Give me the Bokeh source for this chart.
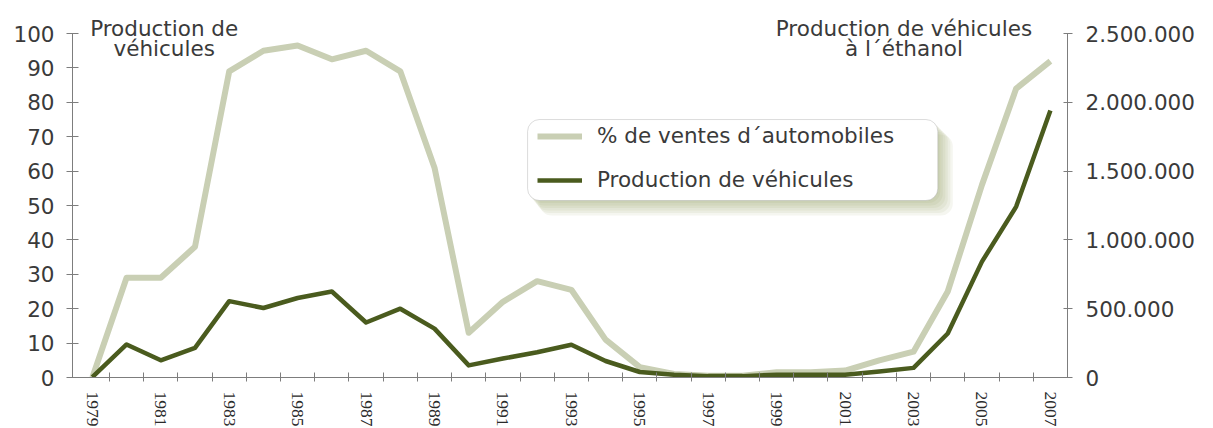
from bokeh.plotting import figure
from bokeh.models import Range1d, LinearAxis, FixedTicker, Legend, LegendItem, Label, BoxAnnotation
from bokeh.embed import file_html
from bokeh.resources import INLINE

# ---------------- data ----------------
years = list(range(1979, 2008))
pct_sales = [0, 29, 29, 38, 89, 95, 96.5, 92.5, 95, 89, 61, 13, 22, 28, 25.5, 11, 3, 1,
             0.5, 0.5, 1.5, 1.5, 2, 5, 7.5, 25, 56, 84, 92]
vehicles = [3000, 240000, 125000, 215000, 555000, 505000, 578000, 625000, 400000, 500000,
            355000, 88000, 138000, 183000, 238000, 120000, 40000, 20000, 10000, 10000,
            20000, 20000, 20000, 43000, 70000, 320000, 842000, 1242000, 1940000]
year_labels = [str(y) for y in range(1979, 2008, 2)]
left_ticks = list(range(0, 101, 10))
right_ticks = [0, 500000, 1000000, 1500000, 2000000, 2500000]
right_tick_labels = ["0", "500.000", "1.000.000", "1.500.000", "2.000.000", "2.500.000"]
series_names = ["% de ventes d´automobiles", "Production de véhicules"]
left_title = ["Production de", "véhicules"]
right_title = ["Production de véhicules", "à l´éthanol"]

# ---------------- style ----------------
LIGHT = "#c9cfb4"
DARK = "#4a5b1e"
AXIS = "#7d7d7d"
TEXT = "#3a3a3a"
FONT = "DejaVu Sans"
NARROW = "Liberation Sans Narrow"
FS = "21.5px"

X0, X1 = 1978.42, 2007.5
FRAME_W, FRAME_H = 995, 377
Y_TOP = 109.6
px_x = (X1 - X0) / FRAME_W
px_y = Y_TOP / FRAME_H

p = figure(frame_width=FRAME_W, frame_height=FRAME_H, output_backend="svg",
           toolbar_location=None,
           x_range=Range1d(X0, X1), y_range=Range1d(0, Y_TOP),
           min_border_left=72, min_border_right=120, min_border_top=0, min_border_bottom=40,
           background_fill_color="white", border_fill_color="white")
p.extra_y_ranges = {"veh": Range1d(0, Y_TOP * 25000)}
p.outline_line_color = None
p.xgrid.visible = False
p.ygrid.visible = False

# x axis
xa = p.xaxis[0]
xa.ticker = FixedTicker(ticks=[int(l) for l in year_labels],
                        minor_ticks=[y + 0.5 for y in years[:-1]])
xa.major_label_overrides = {int(l): l for l in year_labels}
xa.major_tick_in = 0
xa.major_tick_out = 0
xa.minor_tick_in = 5
xa.minor_tick_out = 4
xa.minor_tick_line_color = AXIS
xa.axis_line_color = AXIS
xa.major_label_orientation = "vertical"
xa.major_label_text_font = NARROW
xa.major_label_text_font_size = "17.5px"
xa.major_label_text_color = "#2a2a2a"
xa.major_label_standoff = 10

# left axis
ya = p.yaxis[0]
ya.ticker = FixedTicker(ticks=left_ticks)
ya.bounds = (0, 100)
ya.minor_tick_line_color = None
ya.major_tick_in = 6
ya.major_tick_out = 6
ya.axis_line_color = AXIS
ya.major_tick_line_color = AXIS
ya.major_label_text_font = FONT
ya.major_label_text_font_size = FS
ya.major_label_text_color = TEXT
ya.major_label_standoff = 12

# right axis
ra = LinearAxis(y_range_name="veh", ticker=FixedTicker(ticks=right_ticks),
                bounds=(0, 2500000),
                major_label_overrides=dict(zip(right_ticks, right_tick_labels)))
ra.minor_tick_line_color = None
ra.major_tick_in = 4
ra.major_tick_out = 5
ra.axis_line_color = AXIS
ra.major_tick_line_color = AXIS
ra.major_label_text_font = FONT
ra.major_label_text_font_size = FS
ra.major_label_text_color = TEXT
ra.major_label_standoff = 13
p.add_layout(ra, "right")

# lines
r1 = p.line(years, pct_sales, line_width=6, line_color=LIGHT, line_join="round")
r2 = p.line(years, vehicles, y_range_name="veh", line_width=4.5, line_color=DARK,
            line_join="round")

# legend box with soft shadow
bl, br = 1991.72, 2003.71
bt, bb = 75.0, 51.45
for k in range(1, 7):
    d = 2.5 * k
    p.add_layout(BoxAnnotation(left=bl + d * px_x * 0.8, right=br + d * px_x,
                               top=bt - d * px_y, bottom=bb - d * px_y,
                               fill_color="#7d8f45", fill_alpha=0.08, line_color=None,
                               border_radius=12, level="annotation"))
p.add_layout(BoxAnnotation(left=bl, right=br, top=bt, bottom=bb, fill_color="white",
                           fill_alpha=1.0, line_color="#8a8a8a", line_width=1,
                           border_radius=12, level="annotation"))

legend = Legend(items=[LegendItem(label=series_names[0], renderers=[r1]),
                       LegendItem(label=series_names[1], renderers=[r2])],
                location=(455, 175), orientation="vertical",
                background_fill_alpha=0, border_line_alpha=0,
                glyph_width=45, glyph_height=20, label_height=20,
                label_standoff=15, spacing=19, padding=10, margin=0,
                label_text_font=FONT, label_text_font_size=FS,
                label_text_color=TEXT)
p.add_layout(legend, "center")

# titles
for i, t in enumerate(left_title):
    p.add_layout(Label(x=1981.1, y=101.45 - 5.8 * i, text=t, text_align="center",
                       text_baseline="alphabetic",
                       text_font=FONT, text_font_size=FS, text_color=TEXT))
for i, t in enumerate(right_title):
    p.add_layout(Label(x=2002.72, y=101.45 - 5.8 * i, text=t, text_align="center",
                       text_baseline="alphabetic",
                       text_font=FONT, text_font_size=FS, text_color=TEXT))

open("out.html", "w").write(file_html(p, INLINE))
